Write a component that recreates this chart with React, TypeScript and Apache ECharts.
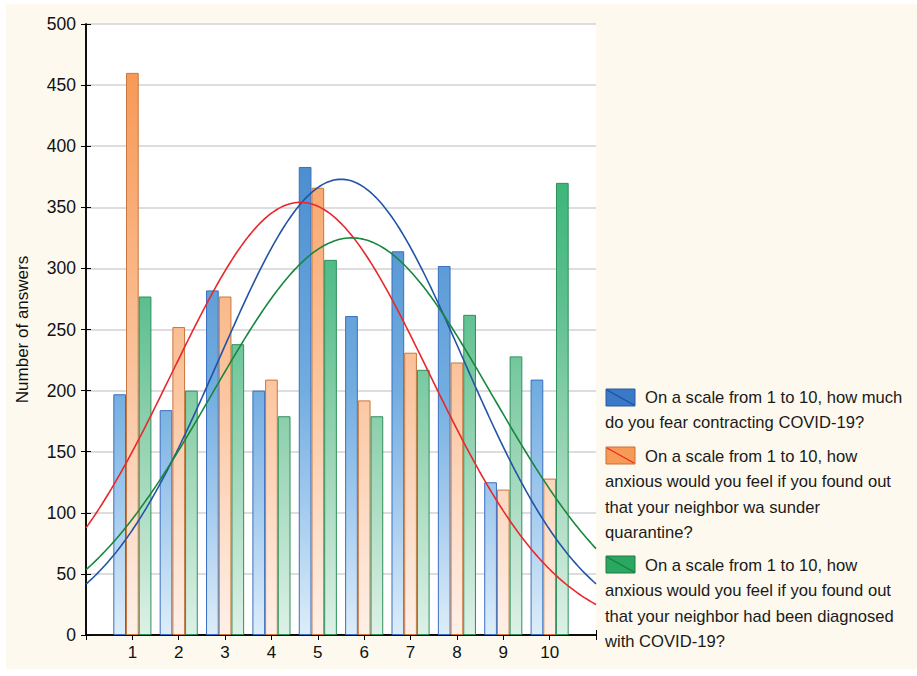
import React, { useEffect, useRef } from "react";
import * as echarts from "echarts";

const categories = [1, 2, 3, 4, 5, 6, 7, 8, 9, 10];
const fearValues = [197, 184, 282, 200, 383, 261, 314, 302, 125, 209];
const quarantineValues = [460, 252, 277, 209, 366, 192, 231, 223, 119, 128];
const diagnosedValues = [277, 200, 238, 179, 307, 179, 217, 262, 228, 370];
const yTicks = [0, 50, 100, 150, 200, 250, 300, 350, 400, 450, 500];
const seriesNames = [
  "On a scale from 1 to 10, how much do you fear contracting COVID-19?",
  "On a scale from 1 to 10, how anxious would you feel if you found out that your neighbor wa sunder quarantine?",
  "On a scale from 1 to 10, how anxious would you feel if you found out that your neighbor had been diagnosed with COVID-19?",
];
const legendLines = [
  ["On a scale from 1 to 10, how much", "do you fear contracting COVID-19?"],
  ["On a scale from 1 to 10, how", "anxious would you feel if you found out", "that your neighbor wa sunder", "quarantine?"],
  ["On a scale from 1 to 10, how", "anxious would you feel if you found out", "that your neighbor had been diagnosed", "with COVID-19?"],
];
const yAxisTitle = "Number of answers";

const FONT = "'Liberation Sans', Arial, sans-serif";

// Fitted normal curve (expected counts) derived from each series' own frequencies
function normalFit(values: number[]) {
  const n = values.reduce((a, b) => a + b, 0);
  const mean = values.reduce((a, v, i) => a + categories[i] * v, 0) / n;
  const ex2 = values.reduce((a, v, i) => a + categories[i] * categories[i] * v, 0) / n;
  const sd = Math.sqrt(ex2 - mean * mean);
  const pts: number[][] = [];
  for (let i = 0; i <= 220; i++) {
    const x = i * 0.05;
    const y = (n / (sd * Math.sqrt(2 * Math.PI))) * Math.exp(-((x - mean) * (x - mean)) / (2 * sd * sd));
    pts.push([x, y]);
  }
  return pts;
}

const PLOT_TOP = 24;
const PLOT_BOTTOM = 635;

function grad(stops: [number, string][]) {
  return new echarts.graphic.LinearGradient(
    0, PLOT_TOP, 0, PLOT_BOTTOM,
    stops.map(([offset, color]) => ({ offset, color })),
    true
  );
}

export default function App() {
  const ref = useRef<HTMLDivElement>(null);
  useEffect(() => {
    if (!ref.current) return;
    const chart = echarts.init(ref.current, undefined, { renderer: "svg" });

    const blueFill = grad([[0, "#3e7fc6"], [0.25, "#4d8fd0"], [0.6, "#72ade0"], [0.8, "#a6ccee"], [1, "#ddedf9"]]);
    const orangeFill = grad([[0, "#f6904a"], [0.08, "#f79a58"], [0.27, "#f8aa72"], [0.6, "#fbc6a0"], [1, "#fef0e8"]]);
    const greenFill = grad([[0, "#22a865"], [0.26, "#3db67a"], [0.45, "#5bbf8e"], [0.7, "#98d4b4"], [1, "#ddf1e7"]]);

    const barColors = [
      { fill: blueFill, border: "#3a6ec0" },
      { fill: orangeFill, border: "#c8763e" },
      { fill: greenFill, border: "#2f8f5a" },
    ];
    const lineColors = ["#2254a6", "#e8282c", "#17873e"];
    const allValues = [fearValues, quarantineValues, diagnosedValues];

    const barSeries = allValues.map((vals, k) => ({
      type: "bar",
      name: seriesNames[k],
      data: vals.map((v, i) => [categories[i], v]),
      barWidth: 12.7,
      barGap: "0%",
      itemStyle: { color: barColors[k].fill, borderColor: barColors[k].border, borderWidth: 1 },
      z: 2,
    }));
    const lineSeries = allValues.map((vals, k) => ({
      type: "line",
      name: seriesNames[k] + " (normal fit)",
      data: normalFit(vals),
      showSymbol: false,
      symbol: "none",
      lineStyle: { color: lineColors[k], width: 1.6 },
      z: 5,
    }));

    const swatches = [
      { y: 389, fill: "#3a78c8", stroke: "#2a5aa0", diag: "#1d4f9e" },
      { y: 447, fill: "#f79a55", stroke: "#c8703a", diag: "#e8262a" },
      { y: 556, fill: "#2aa862", stroke: "#1e7a45", diag: "#1a7a3c" },
    ];
    const firstLineY = [397, 456, 565];
    const graphics: any[] = [
      { type: "rect", shape: { x: 6, y: 4, width: 911, height: 665 }, style: { fill: "#fdf9ee" }, z: -10, silent: true },
    ];
    swatches.forEach((s, k) => {
      graphics.push({ type: "rect", shape: { x: 606, y: s.y, width: 29, height: 17 }, style: { fill: s.fill, stroke: s.stroke, lineWidth: 1 } });
      graphics.push({ type: "line", shape: { x1: 607, y1: s.y + 1, x2: 634, y2: s.y + 16 }, style: { stroke: s.diag, lineWidth: 1.2 } });
      legendLines[k].forEach((line, j) => {
        graphics.push({
          type: "text",
          x: j === 0 ? 645 : 605,
          y: firstLineY[k] + j * 25.6,
          style: { text: line, fontFamily: FONT, fontSize: 16.6, fill: "#1a1a1a", verticalAlign: "middle", align: "left" },
        });
      });
    });

    chart.setOption({
      animation: false,
      backgroundColor: "#ffffff",
      textStyle: { fontFamily: FONT },
      grid: { left: 86, right: 321, top: PLOT_TOP, bottom: 676 - PLOT_BOTTOM, show: true, backgroundColor: "#ffffff", borderWidth: 0 },
      xAxis: [
        {
          type: "value", min: 0, max: 11, interval: 1,
          axisLine: { show: true, lineStyle: { color: "#000", width: 1.5 } },
          axisTick: { show: true, inside: true, length: 5, lineStyle: { color: "#000" } },
          axisLabel: { formatter: (v: number) => (categories.includes(v) ? String(v) : ""), fontSize: 17, color: "#111", margin: 9, fontFamily: FONT },
          splitLine: { show: false },
        },
        {
          type: "value", min: 0, max: 11, interval: 1, position: "top",
          axisLine: { show: true, lineStyle: { color: "#000", width: 1.5 } },
          axisTick: { show: true, inside: true, length: 5, lineStyle: { color: "#000" } },
          axisLabel: { show: false },
          splitLine: { show: false },
        },
      ],
      yAxis: [
        {
          type: "value", min: yTicks[0], max: yTicks[yTicks.length - 1], interval: 50,
          name: yAxisTitle, nameLocation: "middle", nameGap: 55,
          nameTextStyle: { fontSize: 17, color: "#111", fontFamily: FONT },
          axisLine: { show: true, lineStyle: { color: "#000", width: 1.5 } },
          axisTick: { show: true, inside: true, length: 5, lineStyle: { color: "#000" } },
          axisLabel: { fontSize: 17.5, color: "#111", margin: 10, fontFamily: FONT },
          splitLine: { show: true, lineStyle: { color: "#d2d2d2", width: 1.5 } },
        },
        {
          type: "value", min: yTicks[0], max: yTicks[yTicks.length - 1], interval: 50, position: "right",
          axisLine: { show: true, lineStyle: { color: "#000", width: 1.5 } },
          axisTick: { show: true, inside: true, length: 5, lineStyle: { color: "#000" } },
          axisLabel: { show: false },
          splitLine: { show: false },
        },
      ],
      series: [...barSeries, ...lineSeries],
      graphic: graphics,
    });
    return () => chart.dispose();
  }, []);
  return <div ref={ref} style={{ position: "fixed", left: 0, top: 0, width: 917, height: 676 }} />;
}
